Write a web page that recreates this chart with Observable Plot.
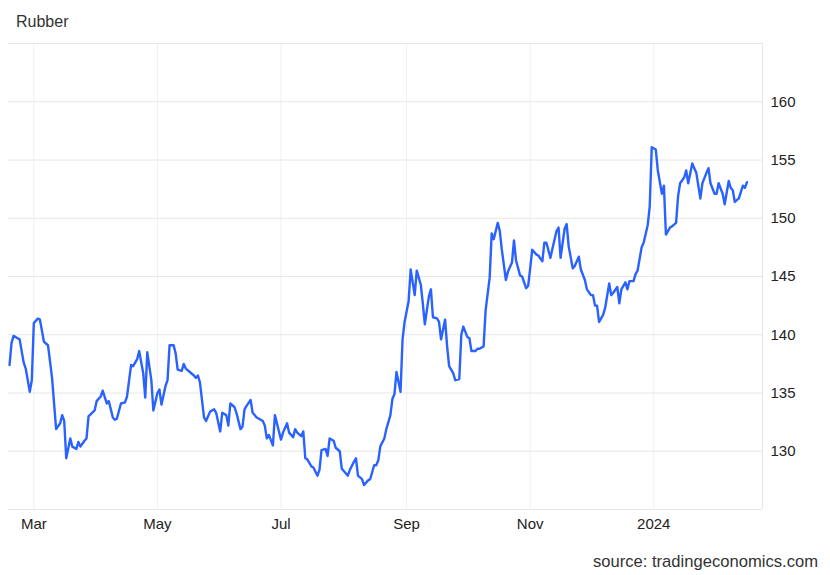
<!DOCTYPE html>
<html>
<head>
<meta charset="utf-8">
<script src="https://cdn.jsdelivr.net/npm/d3@7"></script>
<script src="https://cdn.jsdelivr.net/npm/@observablehq/plot@0.6"></script>
<style>
  html, body { margin: 0; padding: 0; background: #fff; }
  body { width: 830px; height: 575px; overflow: hidden; font-family: "Liberation Sans", Arial, sans-serif; }
  #title { height: 19px; padding: 14px 0 0 16px; font-size: 16px; line-height: 15px; color: #333; }
  #chart svg { display: block; }
  #source { padding: 9px 12px 0 0; text-align: right; font-size: 16.6px; line-height: 16px; color: #333; }
</style>
</head>
<body>
<div id="title">Rubber</div>
<div id="chart"></div>
<div id="source">source: tradingeconomics.com</div>
<script>
const dates = [
"2023-02-17","2023-02-18","2023-02-19","2023-02-21","2023-02-22","2023-02-24","2023-02-25","2023-02-27","2023-02-28",
"2023-03-01","2023-03-03","2023-03-04","2023-03-06","2023-03-08","2023-03-10","2023-03-12","2023-03-14","2023-03-15",
"2023-03-16","2023-03-17","2023-03-19","2023-03-20","2023-03-22","2023-03-23","2023-03-24","2023-03-26","2023-03-27",
"2023-03-28","2023-03-31","2023-04-01","2023-04-03","2023-04-04","2023-04-06","2023-04-07","2023-04-09","2023-04-10",
"2023-04-11","2023-04-13","2023-04-15","2023-04-16","2023-04-18","2023-04-19","2023-04-21","2023-04-22","2023-04-24",
"2023-04-25","2023-04-26","2023-04-28","2023-04-29","2023-05-01","2023-05-02","2023-05-03","2023-05-05","2023-05-06",
"2023-05-07","2023-05-09","2023-05-10","2023-05-11","2023-05-13","2023-05-14","2023-05-15","2023-05-17","2023-05-19",
"2023-05-20","2023-05-21","2023-05-22","2023-05-24","2023-05-25","2023-05-27","2023-05-29","2023-05-30","2023-06-01",
"2023-06-02","2023-06-04","2023-06-05","2023-06-06","2023-06-08","2023-06-09","2023-06-11","2023-06-12","2023-06-13",
"2023-06-14","2023-06-16","2023-06-17","2023-06-19","2023-06-21","2023-06-22","2023-06-23","2023-06-24","2023-06-25",
"2023-06-27","2023-06-28","2023-06-30","2023-07-01","2023-07-02","2023-07-04","2023-07-05","2023-07-07","2023-07-08",
"2023-07-09","2023-07-11","2023-07-12","2023-07-13","2023-07-14","2023-07-16","2023-07-17","2023-07-19","2023-07-20",
"2023-07-21","2023-07-23","2023-07-24","2023-07-25","2023-07-27","2023-07-28","2023-07-30","2023-07-31","2023-08-01",
"2023-08-03","2023-08-04","2023-08-06","2023-08-07","2023-08-08","2023-08-10","2023-08-11","2023-08-13","2023-08-14",
"2023-08-16","2023-08-17","2023-08-18","2023-08-19","2023-08-21","2023-08-22","2023-08-24","2023-08-25","2023-08-26",
"2023-08-27","2023-08-29","2023-08-30","2023-08-31","2023-09-02","2023-09-03","2023-09-05","2023-09-06","2023-09-08",
"2023-09-09","2023-09-10","2023-09-12","2023-09-13","2023-09-14","2023-09-16","2023-09-17","2023-09-18","2023-09-20",
"2023-09-21","2023-09-22","2023-09-24","2023-09-25","2023-09-27","2023-09-28","2023-09-29","2023-10-01","2023-10-02",
"2023-10-03","2023-10-05","2023-10-06","2023-10-07","2023-10-09","2023-10-10","2023-10-12","2023-10-13","2023-10-14",
"2023-10-16","2023-10-17","2023-10-18","2023-10-20","2023-10-21","2023-10-23","2023-10-24","2023-10-25","2023-10-27",
"2023-10-28","2023-10-30","2023-10-31","2023-11-01","2023-11-02","2023-11-04","2023-11-05","2023-11-07","2023-11-08",
"2023-11-09","2023-11-11","2023-11-12","2023-11-14","2023-11-15","2023-11-16","2023-11-18","2023-11-19","2023-11-20",
"2023-11-22","2023-11-23","2023-11-25","2023-11-26","2023-11-28","2023-11-29","2023-12-01","2023-12-02","2023-12-03",
"2023-12-04","2023-12-05","2023-12-07","2023-12-08","2023-12-10","2023-12-11","2023-12-12","2023-12-14","2023-12-15",
"2023-12-16","2023-12-18","2023-12-19","2023-12-20","2023-12-22","2023-12-23","2023-12-24","2023-12-26","2023-12-27",
"2023-12-29","2023-12-30","2023-12-31","2024-01-02","2024-01-03","2024-01-05","2024-01-06","2024-01-07","2024-01-09",
"2024-01-10","2024-01-12","2024-01-13","2024-01-14","2024-01-16","2024-01-17","2024-01-18","2024-01-20","2024-01-21",
"2024-01-22","2024-01-24","2024-01-25","2024-01-27","2024-01-28","2024-01-29","2024-01-31","2024-02-01","2024-02-02",
"2024-02-04","2024-02-05","2024-02-07","2024-02-08","2024-02-09","2024-02-10","2024-02-12","2024-02-14","2024-02-15",
"2024-02-16"
];
const values = [
137.4,139.3,139.9,139.7,139.6,137.6,137.1,135.1,136.1,
141.0,141.4,141.3,139.4,139.1,136.3,131.9,132.4,133.1,
132.6,129.4,131.1,130.4,130.2,130.8,130.4,130.9,131.1,
133.0,133.5,134.3,134.7,135.2,134.1,134.3,132.9,132.7,
132.8,134.1,134.2,134.7,137.4,137.3,137.9,138.6,136.7,
134.6,138.5,136.1,133.5,135.0,135.3,134.0,135.6,136.1,
139.1,139.1,138.4,137.0,136.9,137.5,137.1,136.8,136.5,
136.3,136.5,135.9,132.9,132.6,133.4,133.6,133.3,131.7,
133.3,133.1,132.2,134.1,133.8,133.3,131.9,132.1,133.6,
133.9,134.4,133.3,132.9,132.7,132.6,132.2,131.1,131.4,
130.5,133.1,131.7,131.0,131.6,132.4,131.6,131.2,131.9,
131.6,131.3,131.7,129.4,129.3,128.7,128.6,127.9,128.4,
130.1,130.2,129.6,131.1,130.9,130.3,130.0,128.5,128.3,
127.9,128.4,129.1,129.4,127.9,127.6,127.1,127.5,127.6,
128.8,128.8,129.2,130.4,131.1,131.9,133.1,134.5,134.9,
136.8,135.1,139.6,141.1,142.9,145.6,143.4,145.5,144.3,
142.7,140.9,143.3,143.9,141.5,141.4,141.1,139.6,141.3,
139.0,137.3,136.7,136.1,136.2,140.0,140.7,139.8,139.7,
138.6,138.6,138.8,138.8,139.0,142.1,144.9,148.7,148.2,
149.6,148.9,147.3,144.7,145.4,146.2,148.1,146.4,145.1,
145.0,144.0,144.2,145.7,147.3,146.9,146.8,146.3,147.9,
147.9,146.6,147.4,148.9,149.2,146.6,149.1,149.5,147.6,
145.7,145.9,146.7,145.6,144.7,143.9,143.4,143.4,142.5,
142.5,141.1,141.7,142.3,144.4,143.4,143.6,144.1,142.7,
143.9,144.5,143.9,144.6,144.6,145.2,145.5,147.5,147.9,
149.4,151.0,156.1,155.9,154.1,152.1,152.8,148.6,149.2,
149.3,149.6,151.9,153.0,153.5,154.1,153.0,154.7,154.3,
153.9,151.7,153.0,153.9,154.3,153.0,152.1,152.1,153.0,
152.1,151.2,153.2,152.6,152.4,151.4,151.7,152.8,152.6,
153.1
];
const tickDates = ["2023-03-01","2023-05-01","2023-07-01","2023-09-01","2023-11-01","2024-01-01"];
const tickLabels = ["Mar","May","Jul","Sep","Nov","2024"];
const yGridValues = [125,130,135,140,145,150,155,160,165];
const yLabelValues = [130,135,140,145,150,155,160];
const xDomain = ["2023-02-16T12:00:00Z","2024-02-23T16:00:00Z"];

const data = dates.map((d, i) => ({date: new Date(d), value: values[i]}));
const ticks = tickDates.map(d => new Date(d));
const labelMap = new Map(ticks.map((t, i) => [+t, tickLabels[i]]));
const domain = xDomain.map(d => new Date(d));

const chart = Plot.plot({
  width: 830,
  height: 512,
  marginTop: 10,
  marginBottom: 36,
  marginLeft: 8,
  marginRight: 68,
  style: {fontFamily: "'Liberation Sans', Arial, sans-serif", fontSize: "15px", color: "#222", background: "#fff", overflow: "visible"},
  x: {type: "utc", domain},
  y: {domain: [125, 165]},
  marks: [
    Plot.gridX(ticks, {stroke: "#eef1f5", strokeOpacity: 1}),
    Plot.gridY(yGridValues, {stroke: "#e6e6e6", strokeOpacity: 1}),
    Plot.ruleX([domain[1]], {stroke: "#e6e6e6"}),
    Plot.axisX(ticks, {tickSize: 0, tickPadding: 9, tickFormat: d => labelMap.get(+d), label: null, fontSize: 15}),
    Plot.axisY(yLabelValues, {anchor: "right", tickSize: 0, tickPadding: 8, label: null, fontSize: 15}),
    Plot.line(data, {x: "date", y: "value", stroke: "#2962ff", strokeWidth: 2.4, strokeLinejoin: "round"})
  ]
});
document.getElementById("chart").appendChild(chart);
</script>
</body>
</html>
